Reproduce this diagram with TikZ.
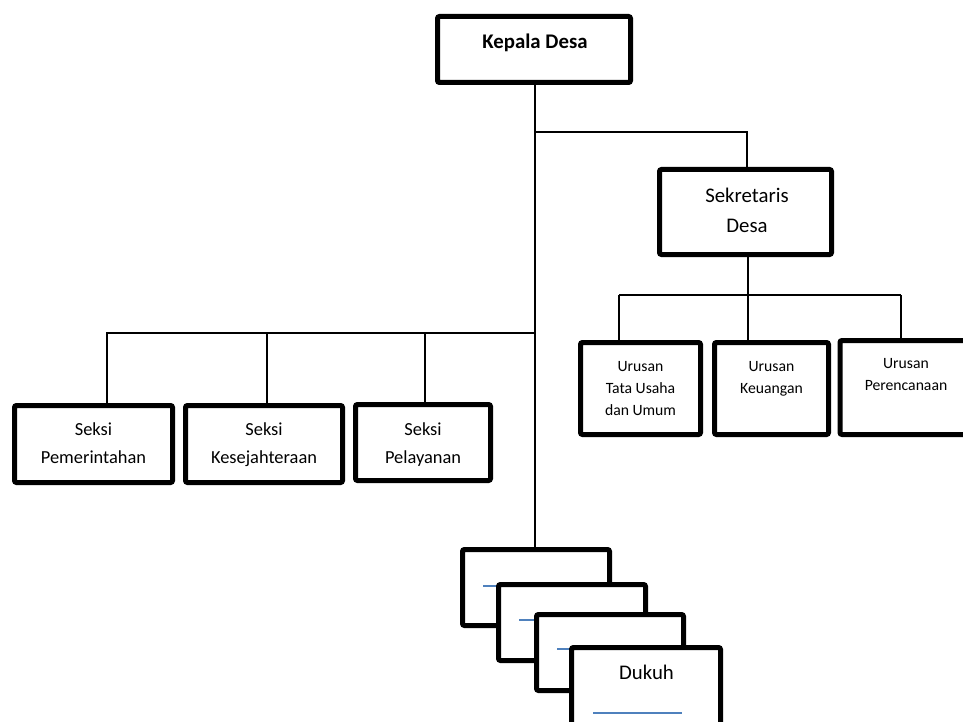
\documentclass[tikz,border=0pt]{standalone}
\usepackage{fontspec}
\setmainfont{Carlito}
\definecolor{lineblue}{RGB}{79,129,189}
\begin{document}
\begin{tikzpicture}[x=1pt,y=-1pt,
  boxnode/.style={draw=black,line width=5pt,rounded corners=2pt,fill=white,inner sep=0pt,outer sep=0pt},
  conn/.style={draw=black,line width=1.3pt},
  txtA/.style={anchor=base,inner sep=0pt,font=\fontsize{20.8}{25}\selectfont},
  txtB/.style={anchor=base,inner sep=0pt,font=\fontsize{18.4}{22}\selectfont},
  txtC/.style={anchor=base,inner sep=0pt,font=\fontsize{15.7}{19}\selectfont},
  blueline/.style={draw=lineblue,line width=1.3pt}]
\useasboundingbox (0,0) rectangle (963,722);
\clip (0,0) rectangle (963,722);

% boxes (positions only; drawn after connectors)
\path (534,49.5) node[minimum width=193pt,minimum height=66pt] (kepala) {};
\path (745.5,212) node[minimum width=172pt,minimum height=85pt] (sek) {};
\path (640.5,388.5) node[minimum width=120pt,minimum height=92pt] (u1) {};
\path (771.5,388.5) node[minimum width=114pt,minimum height=92pt] (u2) {};
\path (905,387.5) node[minimum width=130pt,minimum height=94pt] (u3) {};
\path (93.5,444) node[minimum width=158pt,minimum height=77pt] (s1) {};
\path (264,444) node[minimum width=157pt,minimum height=77pt] (s2) {};
\path (423,442.5) node[minimum width=135pt,minimum height=76pt] (s3) {};
\path (536,587.5) node[minimum width=147pt,minimum height=76pt] (d1) {};

% bus coordinates
\coordinate (kb) at (535,132);
\coordinate (sb) at (535,333);
\coordinate (ub) at (748,295);

% connectors
\draw[conn] ([xshift=1pt]kepala.south) -- ([xshift=1pt]kepala.south |- d1.north);
\draw[conn] (kb) -| ([xshift=1.5pt]sek.north);
\draw[conn] (sb) -| ([xshift=13.5pt]s1.north);
\draw[conn] (sb -| 267,0) -- ([xshift=3pt]s2.north);
\draw[conn] (sb -| 425,0) -- ([xshift=2pt]s3.north);
\draw[conn] ([xshift=2.5pt]sek.south) -- (ub);
\draw[conn] (ub -| 619,0) -- (ub -| 901,0);
\draw[conn] (ub -| 619,0) -- ([xshift=-21.5pt]u1.north);
\draw[conn] (ub) -- ([xshift=-23.5pt]u2.north);
\draw[conn] (ub -| 901,0) -- ([xshift=-4pt]u3.north);

% boxes drawn
\node[boxnode,minimum width=193pt,minimum height=66pt] at (kepala) {};
\node[boxnode,minimum width=172pt,minimum height=85pt] at (sek) {};
\node[boxnode,minimum width=120pt,minimum height=92pt] at (u1) {};
\node[boxnode,minimum width=114pt,minimum height=92pt] at (u2) {};
\node[boxnode,minimum width=130pt,minimum height=94pt] at (u3) {};
\node[boxnode,minimum width=158pt,minimum height=77pt] at (s1) {};
\node[boxnode,minimum width=157pt,minimum height=77pt] at (s2) {};
\node[boxnode,minimum width=135pt,minimum height=76pt] at (s3) {};

% Dukuh stack
\node[boxnode,minimum width=147pt,minimum height=76pt] (d1b) at (d1) {};
\draw[blueline] (483,586) -- (572,586);
\node[boxnode,minimum width=147pt,minimum height=76pt] (d2) at (572,622.5) {};
\draw[blueline] (519,620) -- (608,620);
\node[boxnode,minimum width=147pt,minimum height=76pt] (d3) at (610,652.5) {};
\draw[blueline] (557,649) -- (646,649);
\node[boxnode,minimum width=149pt,minimum height=100pt] (d4) at (646,697.5) {};
\draw[blueline] (593,713) -- (682,713);

% texts
\node[txtA,font=\fontsize{20.8}{25}\selectfont\bfseries] (t1) at (535,49) {Kepala Desa};
\node[txtA] (t2) at (747,203) {Sekretaris};
\node[txtA] (t3) at (747,232) {Desa};
\node[txtB] (t4) at (93.5,435) {Seksi};
\node[txtB] (t5) at (93.5,463) {Pemerintahan};
\node[txtB] (t6) at (264,435) {Seksi};
\node[txtB] (t7) at (264,463) {Kesejahteraan};
\node[txtB] (t8) at (423,435) {Seksi};
\node[txtB] (t9) at (423,463) {Pelayanan};
\node[txtC] (t10) at (640.5,371) {Urusan};
\node[txtC] (t11) at (640.5,393) {Tata Usaha};
\node[txtC] (t12) at (640.5,415) {dan Umum};
\node[txtC] (t13) at (771.5,371) {Urusan};
\node[txtC] (t14) at (771.5,393) {Keuangan};
\node[txtC] (t15) at (906,368) {Urusan};
\node[txtC] (t16) at (906,390) {Perencanaan};
\node[txtA] (t17) at (646.5,679) {Dukuh};
\end{tikzpicture}
\end{document}
